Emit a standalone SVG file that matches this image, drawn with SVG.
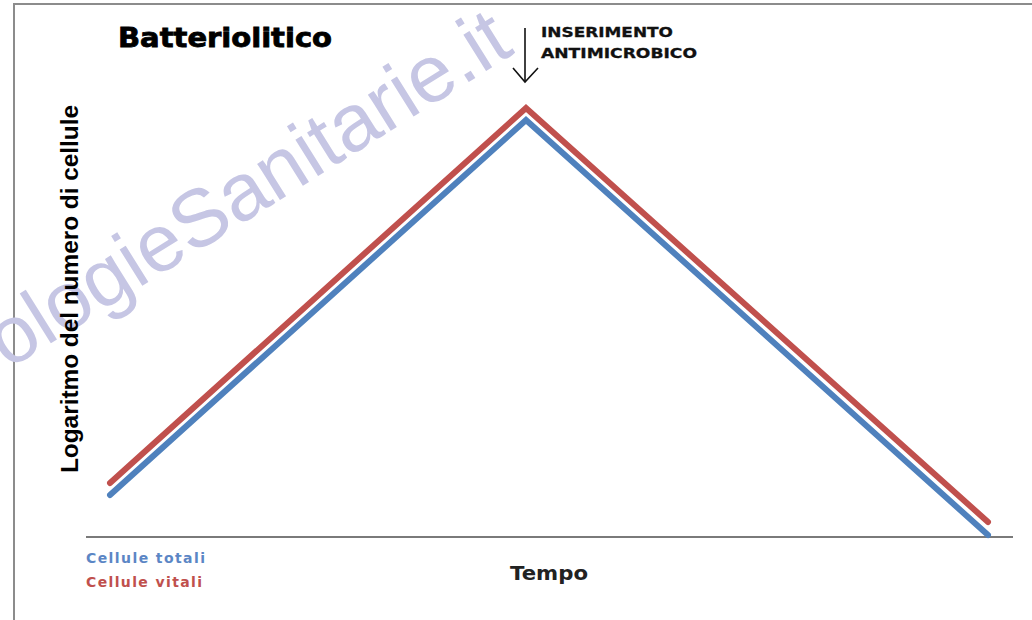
<svg xmlns="http://www.w3.org/2000/svg" width="1032" height="620" viewBox="0 0 1032 620">
  <style>
    .bold { font-family: "DejaVu Sans", "Liberation Sans", sans-serif; font-weight: bold; }
    .curve { fill: none; stroke-width: 6; stroke-linecap: round; stroke-linejoin: miter; }
    .red { stroke: #c0504d; }
    .blue { stroke: #4f81bd; }
    .wm { font-family: "Liberation Sans", Arial, sans-serif; font-size: 81px; fill: #c6c6e4; }
  </style>
  <rect x="0" y="0" width="1032" height="620" fill="#ffffff"/>
  <rect id="frame" x="14" y="4" width="1040" height="640" fill="none" stroke="#8c8c8c" stroke-width="2"/>

  <g id="watermark">
    <text class="wm" transform="translate(8,370) rotate(-32)">ologieSanitarie.it</text>
  </g>

  <g id="axis">
    <line x1="86" y1="537" x2="1013" y2="537" stroke="#7a7a7a" stroke-width="2"/>
  </g>

  <g id="title">
    <text class="bold" x="118" y="47" font-size="26" fill="#000" stroke="#000" stroke-width="0.8" textLength="214" lengthAdjust="spacingAndGlyphs">Batteriolitico</text>
  </g>

  <g id="y-label">
    <text x="78" y="289" font-size="24" font-weight="bold" fill="#000" text-anchor="middle" textLength="368" lengthAdjust="spacingAndGlyphs" transform="rotate(-90 78 289)" style="font-family:'Liberation Sans', Arial, sans-serif">Logaritmo del numero di cellule</text>
  </g>

  <g id="annotation">
    <text class="bold" x="541" y="37" font-size="14" fill="#111" stroke="#111" stroke-width="0.3" textLength="132" lengthAdjust="spacingAndGlyphs">INSERIMENTO</text>
    <text class="bold" x="541" y="58" font-size="14" fill="#111" stroke="#111" stroke-width="0.3" textLength="156" lengthAdjust="spacingAndGlyphs">ANTIMICROBICO</text>
  </g>

  <g id="connectors">
    <g id="arrow" stroke="#111" stroke-width="1.6" fill="none">
      <line x1="525" y1="28" x2="525" y2="82"/>
      <polyline points="513,68 525,82 538,68"/>
    </g>
    <polyline id="vitali-curve" class="curve red" points="110,483 526,108 988,522"/>
    <polyline id="totali-curve" class="curve blue" points="110,495 526,120 988,535"/>
  </g>

  <g id="x-label">
    <text class="bold" x="510" y="580" font-size="20" fill="#222" textLength="78" lengthAdjust="spacingAndGlyphs">Tempo</text>
  </g>

  <g id="legend">
    <text class="bold" x="86" y="563" font-size="14" fill="#5b86c5" textLength="119" lengthAdjust="spacing">Cellule totali</text>
    <text class="bold" x="86" y="587" font-size="14" fill="#c0504d" textLength="116" lengthAdjust="spacing">Cellule vitali</text>
  </g>
</svg>
